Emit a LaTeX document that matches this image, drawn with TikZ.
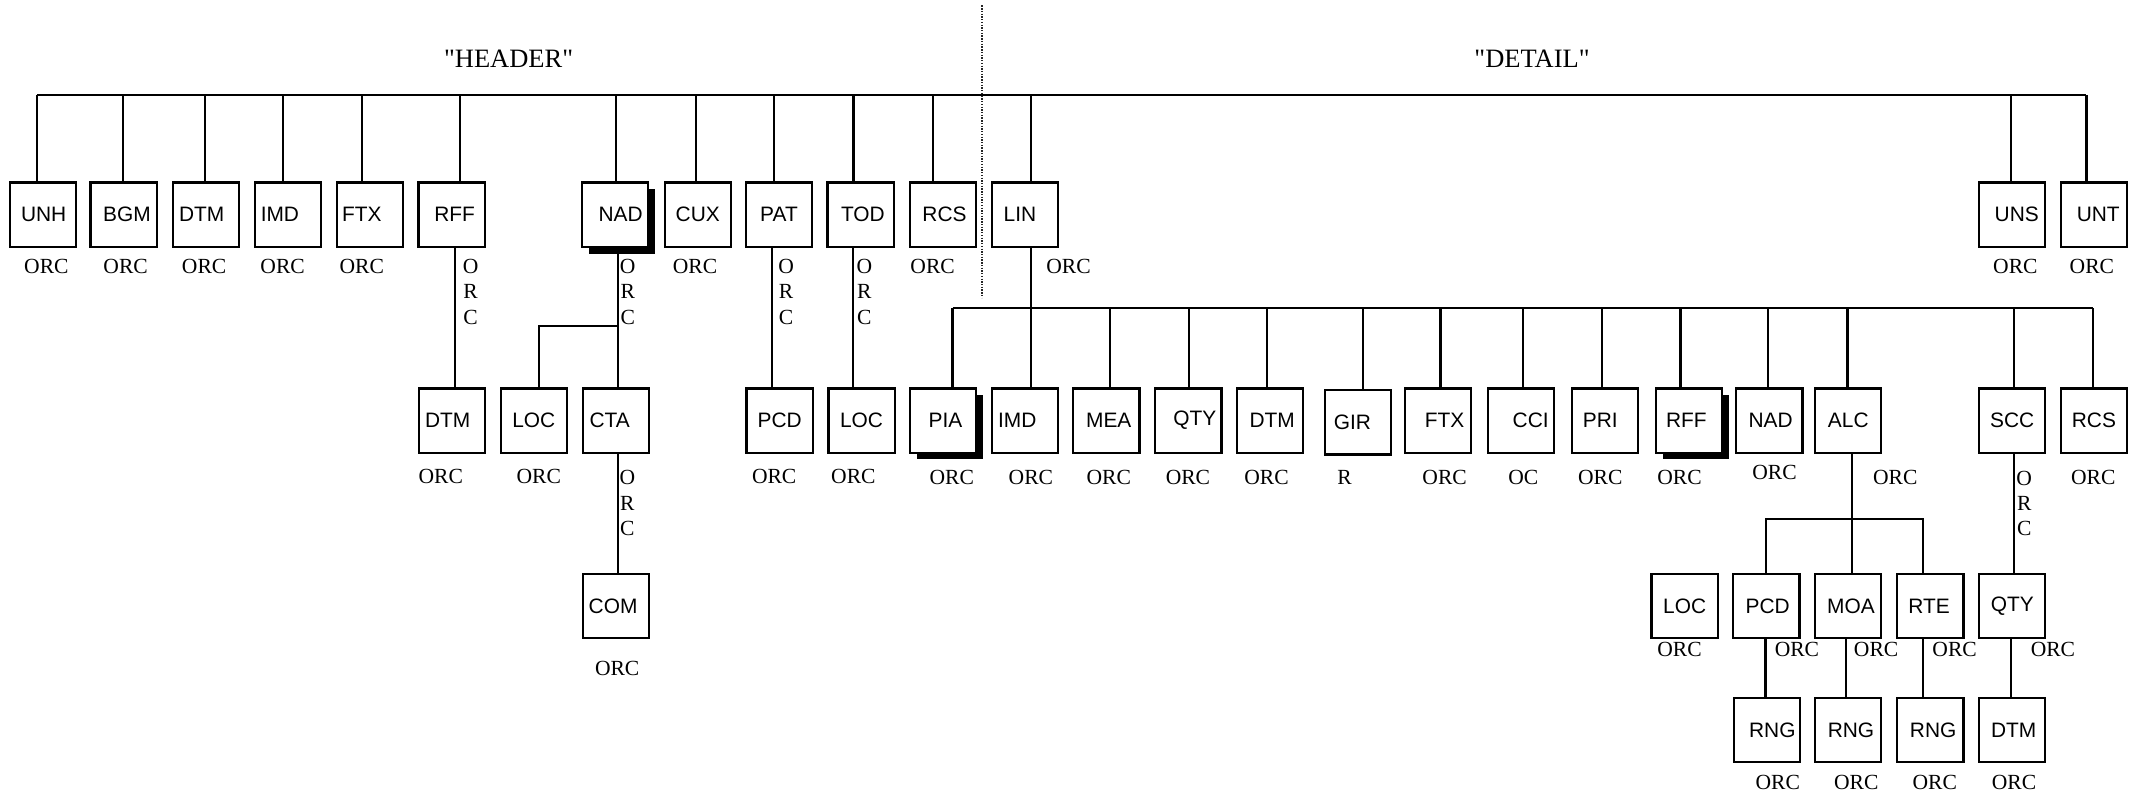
\documentclass[tikz,border=0pt]{standalone}
\usepackage{fontspec}
\setmainfont{Liberation Serif}
\newfontfamily\arialf{Liberation Sans}
\newfontfamily\ttlfont{Liberation Serif}[Ligatures=TeXOff]
\usetikzlibrary{shadows,calc}
\tikzset{
 ln/.style={line width=1.6bp},
 box/.style={draw, line width=1.6bp, fill=white, minimum width=48.5bp, minimum height=47bp, inner sep=0pt},
 shad/.style={general shadow={fill=black, shadow xshift=5bp, shadow yshift=-5bp}},
 boxlab/.style={inner sep=0pt, font=\arialf\fontsize{15.3bp}{18bp}\selectfont},
 orc/.style={inner sep=0pt, font=\fontsize{15.8bp}{18.4bp}\selectfont},
 vorc/.style={orc, align=center},
 ttl/.style={inner sep=0pt, font=\ttlfont\fontsize{19.4bp}{22bp}\selectfont},
 divider/.style={line width=1.4bp, black!85, dash pattern=on 1bp off 1bp},
}
\newcommand\bx[5][]{\node[box,#1] (#2) at (#3) {}; \path (#2.center) ++(#4,0) node[boxlab] (#2-t) {#5};}
\newcommand\drop[3]{\coordinate (#1-d) at (#2,#3); \draw[ln] (#1-d) -- (#1-d |- #1.north);}
\begin{document}
\begin{tikzpicture}[x=1bp,y=-1bp]
\useasboundingbox (0,0) rectangle (1568,583.7);

% titles and divider
\node[ttl] (hdr) at (372.5,42.7) {"HEADER"};
\node[ttl] (dtl) at (1122,42.7) {"DETAIL"};
\coordinate (divT) at (719,4);
\coordinate (divB) at (719,218);
\draw[divider] (divT) -- (divB);

% row 1
\bx{unh}{31.5,157.2}{0.5}{UNH}
\bx{bgm}{90.5,157.2}{2.5}{BGM}
\bx{hdtm}{150.7,157.2}{-3}{DTM}
\bx{imd}{211,157.2}{-6}{IMD}
\bx{hftx}{271,157.2}{-6}{FTX}
\bx{hrff}{330.7,157.2}{2.3}{RFF}
\bx[shad]{hnad}{450.5,157.2}{4}{NAD}
\bx{cux}{511,157.2}{0}{CUX}
\bx{pat}{570.5,157.2}{0}{PAT}
\bx{tod}{630.3,157.2}{1.7}{TOD}
\bx{hrcs}{690.7,157.2}{1}{RCS}
\bx{lin}{750.7,157.2}{-3.7}{LIN}
\bx{uns}{1473.7,157.2}{3.3}{UNS}
\bx{unt}{1533.7,157.2}{3}{UNT}

% header row 2
\bx{hdtm2}{330.9,308}{-3}{DTM}
\bx{hloc}{390.9,308}{0}{LOC}
\bx{cta}{451,308}{-4.5}{CTA}
\bx{hpcd}{571,308}{0}{PCD}
\bx{hloc2}{631,308}{0}{LOC}
\bx{com}{451,444}{-2}{COM}

% detail row 2
\bx[shad]{pia}{690.5,308}{2}{PIA}
\bx{dimd}{750.5,308}{-5.5}{IMD}
\bx{mea}{810.3,308}{1.7}{MEA}
\bx{dqty}{870.3,308}{4.7}{QTY}
\bx{ddtm}{930.3,308}{1.4}{DTM}
\bx{gir}{994.75,309.4}{-4.3}{GIR}
\bx{dftx}{1053.3,308}{4.7}{FTX}
\bx{cci}{1114,308}{7}{CCI}
\bx{pri}{1175.6,308}{-3.6}{PRI}
\bx[shad]{drff}{1237,308}{-2}{RFF}
\bx{dnad}{1295.8,308}{1}{NAD}
\bx{alc}{1353.6,308}{0}{ALC}
\bx{scc}{1473.7,308}{0}{SCC}
\bx{drcs}{1533.5,308}{0}{RCS}

% row 3
\bx{dloc}{1233.8,444}{0}{LOC}
\bx{dpcd}{1293.6,444}{1}{PCD}
\bx{moa}{1353.6,444}{2}{MOA}
\bx{rte}{1413.8,444}{-1}{RTE}
\bx{dqty2}{1473.7,444}{0}{QTY}

% row 4
\bx{rng1}{1294,534.7}{4}{RNG}
\bx{rng2}{1353.6,534.7}{2}{RNG}
\bx{rng3}{1413.8,534.7}{2}{RNG}
\bx{ddtm2}{1473.7,534.7}{1}{DTM}

% header bus
\coordinate (hbusL) at (27,69.5);
\coordinate (hbusR) at (1528,69.5);
\draw[ln] (hbusL) -- (hbusR);
\drop{unh}{27}{69.5}
\drop{bgm}{90}{69.5}
\drop{hdtm}{150}{69.5}
\drop{imd}{207}{69.5}
\drop{hftx}{265}{69.5}
\drop{hrff}{337}{69.5}
\drop{hnad}{451}{69.5}
\drop{cux}{509.5}{69.5}
\drop{pat}{567}{69.5}
\drop{tod}{625}{69.5}
\drop{hrcs}{683}{69.5}
\drop{lin}{755}{69.5}
\drop{uns}{1473}{69.5}
\drop{unt}{1528}{69.5}

% header sub-connectors
\draw[ln] ([xshift=2.6bp]hrff.south) -- ([xshift=2.6bp]hrff.south |- hdtm2.north);
\draw[ln] ([xshift=2.3bp]hnad.south) -- ([xshift=2.3bp]hnad.south |- cta.north);
\coordinate (nadbr) at (452.8,239);
\draw[ln] (nadbr) -| ([xshift=3.9bp]hloc.north);
\draw[ln] ([xshift=1.6bp]cta.south) -- ([xshift=1.6bp]cta.south |- com.north);
\draw[ln] ([xshift=-5.1bp]pat.south) -- ([xshift=-5.1bp]pat.south |- hpcd.north);
\draw[ln] ([xshift=-5.8bp]tod.south) -- ([xshift=-5.8bp]tod.south |- hloc2.north);

% detail bus
\coordinate (dbusL) at (697.6,225.6);
\coordinate (dbusR) at (1533,225.6);
\draw[ln] ([xshift=4.3bp]lin.south) -- ([xshift=4.3bp]lin.south |- dbusL);
\draw[ln] (dbusL) -- (dbusR);
\drop{pia}{697.6}{225.6}
\drop{dimd}{755}{225.6}
\drop{mea}{812.7}{225.6}
\drop{dqty}{870.6}{225.6}
\drop{ddtm}{928}{225.6}
\drop{gir}{998}{225.6}
\drop{dftx}{1055}{225.6}
\drop{cci}{1115.5}{225.6}
\drop{pri}{1173}{225.6}
\drop{drff}{1230.7}{225.6}
\drop{dnad}{1295}{225.6}
\drop{alc}{1353}{225.6}
\drop{scc}{1475}{225.6}
\drop{drcs}{1533}{225.6}

% detail sub-connectors
\draw[ln] ([xshift=3bp]alc.south) -- ([xshift=3bp]alc.south |- moa.north);
\coordinate (albr) at (1356.6,380);
\draw[ln] ([xshift=-0.2bp]dpcd.north) |- (albr) -| ([xshift=-5.3bp]rte.north);
\draw[ln] ([xshift=1.3bp]scc.south) -- ([xshift=1.3bp]scc.south |- dqty2.north);
\draw[ln] ([xshift=-0.6bp]dpcd.south) -- ([xshift=-0.6bp]dpcd.south |- rng1.north);
\draw[ln] ([xshift=-1.6bp]moa.south) -- ([xshift=-1.6bp]moa.south |- rng2.north);
\draw[ln] ([xshift=-5.3bp]rte.south) -- ([xshift=-5.3bp]rte.south |- rng3.north);
\draw[ln] ([xshift=-1bp]dqty2.south) -- ([xshift=-1bp]dqty2.south |- ddtm2.north);

% status labels row 1
\node[orc] (o-unh) at (34,195.5) {ORC};
\node[orc] (o-bgm) at (92,195.5) {ORC};
\node[orc] (o-hdtm) at (149.5,195.5) {ORC};
\node[orc] (o-imd) at (207,195.5) {ORC};
\node[orc] (o-hftx) at (265,195.5) {ORC};
\node[orc] (o-cux) at (509,195.5) {ORC};
\node[orc] (o-hrcs) at (683,195.5) {ORC};
\node[orc] (o-lin) at (782.6,195.5) {ORC};
\node[orc] (o-uns) at (1476,195.5) {ORC};
\node[orc] (o-unt) at (1532,195.5) {ORC};
\node[vorc] (o-hrff) at (344.7,213.8) {O\\R\\C};
\node[vorc] (o-hnad) at (459.7,213.8) {O\\R\\C};
\node[vorc] (o-pat) at (575.7,213.8) {O\\R\\C};
\node[vorc] (o-tod) at (633,213.8) {O\\R\\C};

% header row 2 labels
\node[orc] (o-hdtm2) at (322.8,349) {ORC};
\node[orc] (o-hloc) at (394.6,349) {ORC};
\node[orc] (o-hpcd) at (567,349) {ORC};
\node[orc] (o-hloc2) at (625,349) {ORC};
\node[vorc] (o-cta) at (459.5,368.4) {O\\R\\C};
\node[orc] (o-com) at (452,489.3) {ORC};

% detail row 2 labels
\node[orc] (o-pia) at (697,349.5) {ORC};
\node[orc] (o-dimd) at (755,349.5) {ORC};
\node[orc] (o-mea) at (812,349.5) {ORC};
\node[orc] (o-dqty) at (870,349.5) {ORC};
\node[orc] (o-ddtm) at (927.6,349.5) {ORC};
\node[orc] (o-gir) at (984.7,349.5) {R};
\node[orc] (o-dftx) at (1058,349.5) {ORC};
\node[orc] (o-cci) at (1115.6,349.5) {OC};
\node[orc] (o-pri) at (1172,349.5) {ORC};
\node[orc] (o-drff) at (1230,349.5) {ORC};
\node[orc] (o-dnad) at (1299.6,346) {ORC};
\node[orc] (o-alc) at (1388,349.5) {ORC};
\node[orc] (o-drcs) at (1533,349.5) {ORC};
\node[vorc] (o-scc) at (1482.5,368.5) {O\\R\\C};

% row 3 labels
\node[orc] (o-dloc) at (1230,476) {ORC};
\node[orc] (o-dpcd) at (1316,476) {ORC};
\node[orc] (o-moa) at (1374,476) {ORC};
\node[orc] (o-rte) at (1431.5,476) {ORC};
\node[orc] (o-dqty2) at (1503.5,476) {ORC};

% row 4 labels
\node[orc] (o-rng1) at (1302,573) {ORC};
\node[orc] (o-rng2) at (1359.5,573) {ORC};
\node[orc] (o-rng3) at (1417,573) {ORC};
\node[orc] (o-ddtm2) at (1475,573) {ORC};
\end{tikzpicture}
\end{document}
